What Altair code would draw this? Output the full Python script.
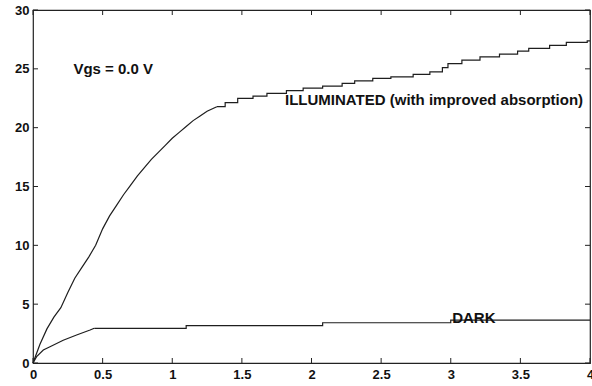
import altair as alt
import pandas as pd

# Illuminated curve: smooth-rising part (read at regular x positions)
ill_rise_x = [0, 0.05, 0.1, 0.15, 0.2, 0.25, 0.3, 0.35, 0.4, 0.45, 0.5, 0.55, 0.6,
              0.65, 0.7, 0.75, 0.8, 0.85, 0.9, 0.95, 1.0, 1.05, 1.1, 1.15, 1.2, 1.25, 1.32]
ill_rise_y = [0, 1.6, 2.9, 3.9, 4.7, 6.0, 7.2, 8.1, 9.0, 10.0, 11.4, 12.5, 13.4,
              14.3, 15.1, 15.9, 16.6, 17.3, 17.9, 18.5, 19.1, 19.6, 20.1, 20.6, 21.0, 21.4, 21.78]
# Illuminated curve: staircase part (step positions and levels)
ill_step_x = [1.32, 1.38, 1.47, 1.58, 1.68, 1.82, 1.94, 2.08, 2.22, 2.31, 2.44, 2.57,
              2.73, 2.85, 2.94, 2.98, 3.08, 3.21, 3.35, 3.48, 3.56, 3.71, 3.83, 3.98, 4.0]
ill_step_y = [21.78, 22.12, 22.49, 22.68, 22.91, 23.14, 23.36, 23.53, 23.76, 23.98, 24.19, 24.32,
              24.53, 24.75, 25.1, 25.45, 25.74, 26.02, 26.25, 26.51, 26.74, 26.99, 27.25, 27.38, 27.38]

# Dark curve
dark_rise_x = [0, 0.026, 0.074, 0.122, 0.217, 0.313, 0.41, 0.44]
dark_rise_y = [0, 0.54, 1.10, 1.38, 1.93, 2.38, 2.80, 2.95]
dark_step_x = [0.44, 1.10, 2.08, 3.0, 4.0]
dark_step_y = [2.95, 3.17, 3.42, 3.65, 3.65]

x_ticks = [0, 0.5, 1, 1.5, 2, 2.5, 3, 3.5, 4]
y_ticks = [0, 5, 10, 15, 20, 25, 30]

annotations = ["Vgs = 0.0 V", "ILLUMINATED (with improved absorption)", "DARK"]
ann_x = [0.29, 1.81, 3.01]
ann_y = [25.0, 22.35, 3.82]

W, H = 557, 353
FONT = "Liberation Sans"
LINE_COLOR = "#1e1e1e"

xs = alt.Scale(domain=[0, 4], nice=False, zero=False)
ys = alt.Scale(domain=[0, 30], nice=False, zero=False)

rise = pd.DataFrame({
    "x": ill_rise_x + dark_rise_x,
    "y": ill_rise_y + dark_rise_y,
    "s": ["ill"] * len(ill_rise_x) + ["dark"] * len(dark_rise_x),
})
steps = pd.DataFrame({
    "x": ill_step_x + dark_step_x,
    "y": ill_step_y + dark_step_y,
    "s": ["ill"] * len(ill_step_x) + ["dark"] * len(dark_step_x),
})

xaxis = alt.Axis(values=x_ticks, ticks=False, domain=False, grid=False, title=None,
                 labelExpr="'' + datum.value", labelFont=FONT, labelFontSize=13,
                 labelFontWeight="bold", labelColor="#111", labelPadding=5,
                 labelFlush=False)
yaxis = alt.Axis(values=y_ticks, ticks=False, domain=False, grid=False, title=None,
                 labelFont=FONT, labelFontSize=13, labelFontWeight="bold",
                 labelColor="#111", labelPadding=4)

base_rise = alt.Chart(rise).mark_line(color=LINE_COLOR, strokeWidth=1.2).encode(
    x=alt.X("x:Q", scale=xs, axis=xaxis),
    y=alt.Y("y:Q", scale=ys, axis=yaxis),
    detail="s:N",
)
base_steps = alt.Chart(steps).mark_line(color=LINE_COLOR, strokeWidth=1.2,
                                        interpolate="step-after").encode(
    x=alt.X("x:Q", scale=xs),
    y=alt.Y("y:Q", scale=ys),
    detail="s:N",
)

xt = pd.DataFrame({"x": x_ticks})
yt = pd.DataFrame({"y": y_ticks})
tick_style = dict(color="#222", strokeWidth=1)
bottom_ticks = alt.Chart(xt).mark_rule(**tick_style).encode(
    x=alt.X("x:Q", scale=xs), y=alt.value(H), y2=alt.value(H - 5))
top_ticks = alt.Chart(xt).mark_rule(**tick_style).encode(
    x=alt.X("x:Q", scale=xs), y=alt.value(0), y2=alt.value(5))
left_ticks = alt.Chart(yt).mark_rule(**tick_style).encode(
    y=alt.Y("y:Q", scale=ys), x=alt.value(0), x2=alt.value(5))
right_ticks = alt.Chart(yt).mark_rule(**tick_style).encode(
    y=alt.Y("y:Q", scale=ys), x=alt.value(W), x2=alt.value(W - 5))

ann = pd.DataFrame({"t": annotations, "x": ann_x, "y": ann_y})
texts = alt.Chart(ann).mark_text(font=FONT, fontSize=15, fontWeight="bold",
                                 align="left", baseline="middle", color="#111").encode(
    x=alt.X("x:Q", scale=xs), y=alt.Y("y:Q", scale=ys), text="t:N")

chart = alt.layer(base_rise, base_steps, bottom_ticks, top_ticks, left_ticks,
                  right_ticks, texts).properties(
    width=W, height=H,
    autosize=alt.AutoSizeParams(type="none"),
    padding={"left": 33, "top": 10, "right": 2, "bottom": 23},
    background="white",
).configure_view(stroke="#222", strokeWidth=1.2)

chart.save("out.html", embed_options={"renderer": "svg", "actions": False})
